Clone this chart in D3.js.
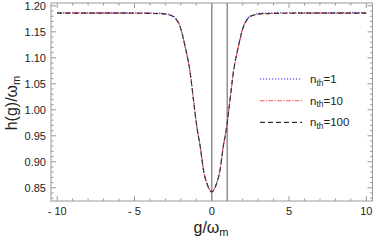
<!DOCTYPE html>
<html>
<head>
<meta charset="utf-8">
<script src="https://cdn.jsdelivr.net/npm/d3@7"></script>
<style>
  body { margin: 0; background: #fff; }
  text { font-family: "Liberation Sans", Arial, sans-serif; fill: #222; }
</style>
</head>
<body>
<svg id="chart" width="374" height="243"></svg>
<script>
// values
const gVals = [-10, -6, -3.3, -2.7, -2.36, -2.04, -1.72, -1.39, -1.18, -0.96, -0.74, -0.53, -0.31, -0.1, 0,
               0.1, 0.31, 0.53, 0.74, 0.96, 1.18, 1.39, 1.72, 2.04, 2.36, 2.7, 3.3, 6, 10];
const hN1   = [1.187, 1.187, 1.186, 1.183, 1.177, 1.160, 1.122, 1.071, 1.019, 0.967, 0.929, 0.884, 0.859, 0.845, 0.843,
               0.845, 0.859, 0.884, 0.929, 0.967, 1.019, 1.071, 1.122, 1.160, 1.177, 1.183, 1.186, 1.187, 1.187];
const hN10  = [1.186, 1.186, 1.185, 1.182, 1.176, 1.159, 1.121, 1.070, 1.018, 0.966, 0.928, 0.883, 0.858, 0.844, 0.842,
               0.844, 0.858, 0.883, 0.928, 0.966, 1.018, 1.070, 1.121, 1.159, 1.176, 1.182, 1.185, 1.186, 1.186];
const hN100 = [1.186, 1.186, 1.185, 1.182, 1.176, 1.159, 1.121, 1.070, 1.018, 0.966, 0.928, 0.883, 0.858, 0.844, 0.842,
               0.844, 0.858, 0.883, 0.928, 0.966, 1.018, 1.070, 1.121, 1.159, 1.176, 1.182, 1.185, 1.186, 1.186];
const seriesNames = ["1", "10", "100"];
const xTicks = [-10, -5, 0, 5, 10];
const xTickLabels = ["- 10", "- 5", "0", "5", "10"];
const yTicks = [0.85, 0.90, 0.95, 1.00, 1.05, 1.10, 1.15, 1.20];
const markerLines = [0, 1];

const margin = {top: 3, right: 1.5, bottom: 42, left: 51};
const W = 374, H = 243;
const width = W - margin.left - margin.right;
const height = H - margin.top - margin.bottom;

const svg = d3.select("#chart");
const chart = svg.append("g").attr("transform", `translate(${margin.left},${margin.top})`);

const x = d3.scaleLinear().domain([-10.4, 10.4]).range([0, width]);
const y = d3.scaleLinear().domain([0.8245, 1.2055]).range([height, 0]);

// vertical marker lines
chart.selectAll(".marker")
  .data(markerLines)
  .join("line")
    .attr("x1", d => x(d)).attr("x2", d => x(d))
    .attr("y1", 0).attr("y2", height)
    .attr("stroke", "#808080")
    .attr("stroke-width", 1.3);

// curves
const styles = [
  {data: hN1,   color: "#2b2bff", dash: "1.2,1.8", w: 1.1},
  {data: hN10,  color: "#ff5050", dash: "4.5,1.5,1.2,1.5", w: 1.1},
  {data: hN100, color: "#333", dash: "5,3", w: 1.1}
];
const line = d3.line()
  .x(d => x(d[0]))
  .y(d => y(d[1]))
  .curve(d3.curveMonotoneX);

styles.forEach(s => {
  chart.append("path")
    .datum(gVals.map((g, i) => [g, s.data[i]]))
    .attr("fill", "none")
    .attr("stroke", s.color)
    .attr("stroke-width", s.w)
    .attr("stroke-dasharray", s.dash)
    .attr("d", line);
});

// frame
chart.append("rect")
  .attr("width", width).attr("height", height)
  .attr("fill", "none").attr("stroke", "#9a9a9a").attr("stroke-width", 1);

// ticks on all four sides (inward)
const xMinor = d3.range(-10, 11, 1);
const yMinor = d3.range(83, 121, 1).map(v => v / 100);
const tickColor = "#9a9a9a";
function isMajorX(v) { return xTicks.includes(v); }
function isMajorY(v) { return yTicks.some(t => Math.abs(t - v) < 1e-6); }

xMinor.forEach(v => {
  const len = isMajorX(v) ? 5 : 2.5;
  chart.append("line").attr("x1", x(v)).attr("x2", x(v))
    .attr("y1", height).attr("y2", height - len).attr("stroke", tickColor);
  chart.append("line").attr("x1", x(v)).attr("x2", x(v))
    .attr("y1", 0).attr("y2", len).attr("stroke", tickColor);
});
yMinor.forEach(v => {
  const len = isMajorY(v) ? 5 : 2.5;
  chart.append("line").attr("y1", y(v)).attr("y2", y(v))
    .attr("x1", 0).attr("x2", len).attr("stroke", tickColor);
  chart.append("line").attr("y1", y(v)).attr("y2", y(v))
    .attr("x1", width).attr("x2", width - len).attr("stroke", tickColor);
});

// tick labels
chart.selectAll(".xl")
  .data(xTicks)
  .join("text")
    .attr("x", d => x(d))
    .attr("y", height + 14)
    .attr("text-anchor", "middle")
    .attr("font-size", "11px")
    .text((d, i) => xTickLabels[i]);

chart.selectAll(".yl")
  .data(yTicks)
  .join("text")
    .attr("x", -5)
    .attr("y", d => y(d) + 4)
    .attr("text-anchor", "end")
    .attr("font-size", "11px")
    .text(d => d.toFixed(2));

// axis titles
const xt = svg.append("text")
  .attr("x", 211).attr("y", 233)
  .attr("text-anchor", "middle")
  .attr("font-size", "16px");
xt.append("tspan").text("g/ω");
xt.append("tspan").attr("font-size", "11px").attr("dy", 3).text("m");

const yt = svg.append("text")
  .attr("transform", "translate(17,103) rotate(-90)")
  .attr("text-anchor", "middle")
  .attr("font-size", "16px");
yt.append("tspan").text("h(g)/ω");
yt.append("tspan").attr("font-size", "11px").attr("dy", 3).text("m");

// legend
const legend = svg.append("g");
styles.forEach((s, i) => {
  const ly = 79 + i * 21.7;
  legend.append("line")
    .attr("x1", 260).attr("x2", 302)
    .attr("y1", ly).attr("y2", ly)
    .attr("stroke", s.color).attr("stroke-width", s.w)
    .attr("stroke-dasharray", s.dash);
  const t = legend.append("text")
    .attr("x", 310).attr("y", ly + 4)
    .attr("font-size", "11.5px");
  t.append("tspan").text("n");
  t.append("tspan").attr("font-size", "8.5px").attr("dy", 2.5).text("th");
  t.append("tspan").attr("dy", -2.5).text("=" + seriesNames[i]);
});
</script>
</body>
</html>
